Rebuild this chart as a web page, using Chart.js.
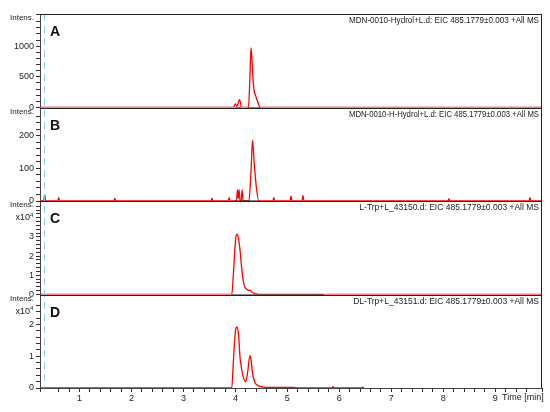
<!DOCTYPE html>
<html>
<head>
<meta charset="utf-8">
<script src="https://cdn.jsdelivr.net/npm/chart.js@4.4.1/dist/chart.umd.min.js"></script>
<style>
  html, body { margin: 0; padding: 0; background: #fff; }
</style>
</head>
<body>
<canvas id="eic" width="550" height="412"></canvas>
<script>
// panel labels and file titles
const panelLetters = ['A', 'B', 'C', 'D'];
const panelTitles = [
  'MDN-0010-Hydrol+L.d: EIC 485.1779\u00b10.003 +All MS',
  'MDN-0010-H-Hydrol+L.d: EIC 485.1779\u00b10.003 +All MS',
  'L-Trp+L_43150.d: EIC 485.1779\u00b10.003 +All MS',
  'DL-Trp+L_43151.d: EIC 485.1779\u00b10.003 +All MS'
];

// time axis
const timeMin = 0.24;
const timeMax = 9.9;
const timeTicks = [1, 2, 3, 4, 5, 6, 7, 8, 9];

// A - intensity
const timeA = [0.24, 3.96, 4.00, 4.03, 4.08, 4.12, 4.25, 4.28, 4.30, 4.32, 4.34, 4.36, 4.39, 4.42, 4.45, 4.48, 9.9];
const intensA = [0, 0, 60, 20, 130, 0, 0, 500, 972, 760, 450, 280, 190, 115, 40, 0, 0];

// B - intensity (spiky)
const timeB = [0.24, 0.31, 0.33, 0.35, 0.58, 0.60, 0.62, 1.66, 1.68, 1.70, 3.53, 3.55, 3.57,
  3.86, 3.88, 3.90, 4.02, 4.04, 4.055, 4.07, 4.09, 4.11, 4.13, 4.15, 4.26, 4.30, 4.33, 4.36,
  4.40, 4.45, 4.72, 4.74, 4.76, 5.05, 5.07, 5.09, 5.28, 5.30, 5.32, 8.09, 8.11, 8.13,
  9.65, 9.67, 9.69, 9.9];
const intensB = [0, 0, 20, 0, 0, 10, 0, 0, 8, 0, 0, 9, 0,
  0, 10, 0, 0, 34, 8, 35, 0, 0, 34, 0, 0, 90, 187, 120,
  47, 0, 0, 10, 0, 0, 15, 0, 0, 17, 0, 0, 7, 0,
  0, 10, 0, 0];

// C - intensity (x10^4)
const timeC = [0.24, 3.93, 3.96, 3.99, 4.01, 4.03, 4.06, 4.09, 4.12, 4.15, 4.18, 4.22, 4.25, 4.28, 4.32, 4.38, 4.50, 9.9];
const intensC = [0, 0, 1.0, 2.4, 3.0, 3.14, 2.9, 2.3, 1.4, 0.73, 0.4, 0.26, 0.22, 0.23, 0.12, 0.05, 0, 0];

// D - intensity (x10^4)
const timeD = [0.24, 3.93, 3.96, 3.99, 4.01, 4.03, 4.06, 4.09, 4.12, 4.15, 4.20, 4.24, 4.28, 4.30, 4.33, 4.37, 4.41, 4.53,
  4.70, 5.10, 5.20, 5.86, 5.88, 5.90, 6.43, 6.45, 6.47, 9.9];
const intensD = [0, 0, 0.8, 1.6, 1.88, 1.93, 1.7, 0.95, 0.6, 0.36, 0.2, 0.55, 1.02, 0.9, 0.47, 0.2, 0.1, 0.03,
  0.02, 0.02, 0, 0, 0.04, 0, 0, 0.03, 0];

// integration baselines (black), start/end times per panel
const baselineA = [[3.98, 4.11], [4.24, 4.48]];
const baselineB = [[3.99, 4.45]];
const baselineC = [[3.93, 5.70]];
const baselineD = [];

// y axis ranges, steps and labelled values
const yMax = [1525, 287, 4.87, 2.95];
const yStep = [100, 20, 0.2, 0.2];
const yMajor = [500, 100, 1, 1];
const yLabelTop = [1000, 200, 3, 2];

const traces = [[timeA, intensA], [timeB, intensB], [timeC, intensC], [timeD, intensD]];
const baselines = [baselineA, baselineB, baselineC, baselineD];
const axisIds = ['yA', 'yB', 'yC', 'yD'];

const datasets = [];
traces.forEach(([t, v], i) => {
  datasets.push({
    label: panelLetters[i],
    data: t.map((x, k) => ({x: x, y: v[k]})),
    yAxisID: axisIds[i],
    borderColor: '#ff0000',
    borderWidth: 1.3,
    pointRadius: 0,
    cubicInterpolationMode: 'monotone',
    fill: false,
    order: 2
  });
  baselines[i].forEach(([t0, t1]) => {
    datasets.push({
      label: panelLetters[i] + ' baseline',
      data: [{x: t0, y: 0}, {x: t1, y: 0}],
      yAxisID: axisIds[i],
      borderColor: '#111',
      borderWidth: 1,
      pointRadius: 0,
      fill: false,
      order: 1
    });
  });
});

const scales = {
  x: {
    type: 'linear',
    min: timeMin,
    max: timeMax,
    border: {color: '#444'},
    grid: {drawOnChartArea: false, tickLength: 4, color: '#333'},
    ticks: {
      stepSize: 0.2,
      autoSkip: false,
      maxRotation: 0,
      padding: 1,
      color: '#222',
      font: {size: 9},
      callback: (v) => {
        const r = Math.round(v);
        return (Math.abs(v - r) < 1e-6 && timeTicks.includes(r)) ? String(r) : '';
      }
    },
    afterFit: (s) => { s.height = 24; }
  }
};

// stacked axes are laid out bottom-up, so add D first
[3, 2, 1, 0].forEach((i) => {
  scales[axisIds[i]] = {
    type: 'linear',
    position: 'left',
    stack: 'eic',
    stackWeight: 1,
    min: 0,
    max: yMax[i],
    border: {color: '#444'},
    grid: {drawOnChartArea: false, tickLength: 4, color: '#333'},
    ticks: {
      stepSize: yStep[i],
      autoSkip: false,
      padding: 2,
      color: '#222',
      font: {size: 9},
      callback: (v) => {
        const r = Math.round(v / yMajor[i]) * yMajor[i];
        return (Math.abs(v - r) < 1e-6 && r <= yLabelTop[i]) ? String(r) : '';
      }
    },
    afterFit: (s) => { s.width = 40; }
  };
});

const decorations = {
  id: 'decorations',
  afterDraw(chart) {
    const {ctx, chartArea} = chart;
    const x = chart.scales.x;
    ctx.save();

    // retention time marker
    ctx.strokeStyle = '#8cc8f2';
    ctx.lineWidth = 1;
    ctx.setLineDash([7, 5]);
    const mx = Math.round(x.getPixelForValue(0.32)) + 0.5;
    ctx.beginPath();
    ctx.moveTo(mx, chartArea.top);
    ctx.lineTo(mx, chartArea.bottom);
    ctx.stroke();
    ctx.setLineDash([]);

    // frame: top of each panel + right edge
    ctx.strokeStyle = '#222';
    ctx.beginPath();
    axisIds.forEach((id) => {
      const s = chart.scales[id];
      const y = Math.round(s.top) + 0.5;
      ctx.moveTo(chartArea.left, y);
      ctx.lineTo(chartArea.right, y);
    });
    ctx.moveTo(chartArea.right - 0.5, chartArea.top);
    ctx.lineTo(chartArea.right - 0.5, chartArea.bottom);
    ctx.stroke();

    axisIds.forEach((id, i) => {
      const s = chart.scales[id];
      // Intens.
      ctx.fillStyle = '#222';
      ctx.font = '8px "Liberation Sans", Arial, sans-serif';
      ctx.textAlign = 'right';
      ctx.textBaseline = 'middle';
      ctx.fillText('Intens.', 34, s.top + 4, 26);
      if (i >= 2) {
        ctx.font = '9px "Liberation Sans", Arial, sans-serif';
        ctx.fillText('x10', 30, s.top + 17);
        ctx.font = '6px "Liberation Sans", Arial, sans-serif';
        ctx.textAlign = 'left';
        ctx.fillText('4', 30, s.top + 14);
      }
      // panel letter
      ctx.fillStyle = '#111';
      ctx.font = 'bold 14px "Liberation Sans", Arial, sans-serif';
      ctx.textAlign = 'left';
      ctx.textBaseline = 'alphabetic';
      ctx.fillText(panelLetters[i], 50, s.top + 22);
      // file title
      ctx.fillStyle = '#222';
      ctx.font = '8.5px "Liberation Sans", Arial, sans-serif';
      ctx.textAlign = 'right';
      ctx.fillText(panelTitles[i], chartArea.right - 3, s.top + 9, 190);
    });

    // time label
    ctx.font = '9px "Liberation Sans", Arial, sans-serif';
    ctx.textAlign = 'left';
    ctx.textBaseline = 'middle';
    ctx.fillStyle = '#222';
    ctx.fillText('Time [min]', 502, x.top + 10);
    ctx.restore();
  }
};

Chart.defaults.font.family = '"Liberation Sans", Arial, sans-serif';

new Chart(document.getElementById('eic'), {
  type: 'line',
  data: {datasets: datasets},
  options: {
    responsive: false,
    animation: false,
    layout: {padding: {left: 0, right: 8, top: 14, bottom: 0}},
    plugins: {legend: {display: false}, tooltip: {enabled: false}},
    scales: scales
  },
  plugins: [decorations]
});
</script>
</body>
</html>
